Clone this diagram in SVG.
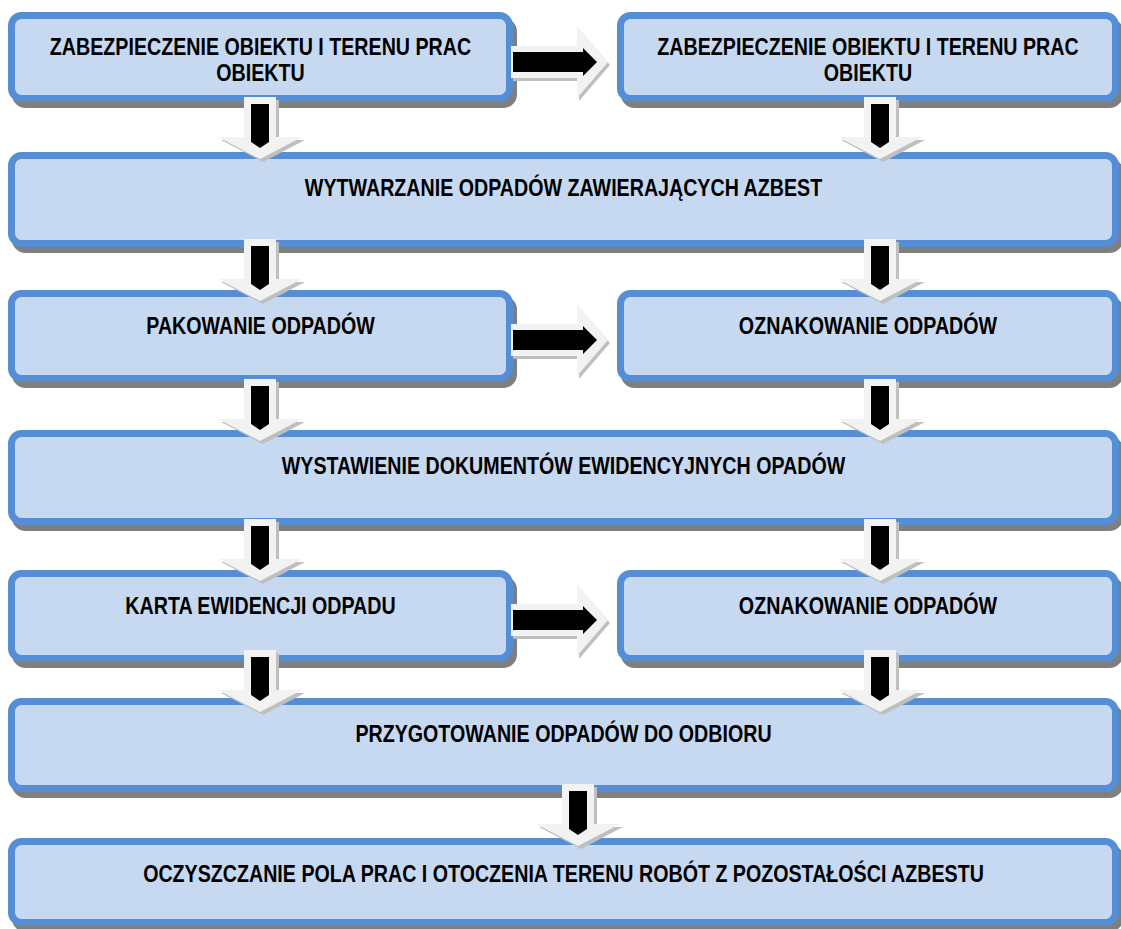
<svg xmlns="http://www.w3.org/2000/svg" xmlns:xlink="http://www.w3.org/1999/xlink" width="1121" height="929" viewBox="0 0 1121 929">
<style>
.box{fill:#C6D9F1;stroke:#558ED5;stroke-width:7}
.sh{fill:#7F7F7F;stroke:#7F7F7F;stroke-width:7}
.t{font-family:"Liberation Sans",Arial,sans-serif;font-weight:bold;font-size:23px;fill:#000;text-anchor:middle}
.ag{fill:#F2F2F2}
.as{fill:#BFBFBF}
.ab{fill:#000}
</style>
<defs>
<path id="dg" d="M-16,-62H16V-22H42L0,0L-42,-22H-16Z"/>
<path id="db" d="M-9,-55H9V-17L0,-11L-9,-17Z"/>
<path id="rg" d="M-97,-16H-31V-36L0,0L-31,36V16H-97Z"/>
<path id="rb" d="M-95,-10H-25V-14L-11,0L-25,14V10H-95Z"/>
<g id="down"><use xlink:href="#dg" class="as" transform="translate(3,3)"/><use xlink:href="#dg" class="ag"/><use xlink:href="#db" class="ab"/></g>
<g id="right"><use xlink:href="#rg" class="as" transform="translate(2,3)"/><use xlink:href="#rg" class="ag"/><use xlink:href="#rb" class="ab"/></g>
</defs>
<rect width="1121" height="929" fill="#FFFFFF"/>
<g id="n1">
<rect class="sh" x="15.5" y="21.5" width="498" height="83" rx="10"/>
<rect class="box" x="11.5" y="15.5" width="498" height="83" rx="10"/>
<text class="t" transform="translate(260.5,55) scale(0.855,1)">ZABEZPIECZENIE OBIEKTU I TERENU PRAC</text>
<text class="t" transform="translate(260.5,81) scale(0.855,1)">OBIEKTU</text>
</g>
<g id="n2">
<rect class="sh" x="624.5" y="21.5" width="495" height="83" rx="10"/>
<rect class="box" x="620.5" y="15.5" width="495" height="83" rx="10"/>
<text class="t" transform="translate(868,55) scale(0.855,1)">ZABEZPIECZENIE OBIEKTU I TERENU PRAC</text>
<text class="t" transform="translate(868,81) scale(0.855,1)">OBIEKTU</text>
</g>
<g id="n3">
<rect class="sh" x="15.5" y="161.5" width="1104" height="88" rx="10"/>
<rect class="box" x="11.5" y="155.5" width="1104" height="88" rx="10"/>
<text class="t" transform="translate(563.5,196) scale(0.855,1)">WYTWARZANIE ODPADÓW ZAWIERAJĄCYCH AZBEST</text>
</g>
<g id="n4">
<rect class="sh" x="15.5" y="299.5" width="498" height="85" rx="10"/>
<rect class="box" x="11.5" y="293.5" width="498" height="85" rx="10"/>
<text class="t" transform="translate(260.5,334) scale(0.855,1)">PAKOWANIE ODPADÓW</text>
</g>
<g id="n5">
<rect class="sh" x="624.5" y="299.5" width="495" height="85" rx="10"/>
<rect class="box" x="620.5" y="293.5" width="495" height="85" rx="10"/>
<text class="t" transform="translate(868,334) scale(0.855,1)">OZNAKOWANIE ODPADÓW</text>
</g>
<g id="n6">
<rect class="sh" x="15.5" y="439.5" width="1104" height="88" rx="10"/>
<rect class="box" x="11.5" y="433.5" width="1104" height="88" rx="10"/>
<text class="t" transform="translate(563.5,474) scale(0.855,1)">WYSTAWIENIE DOKUMENTÓW EWIDENCYJNYCH OPADÓW</text>
</g>
<g id="n7">
<rect class="sh" x="15.5" y="579.5" width="498" height="85" rx="10"/>
<rect class="box" x="11.5" y="573.5" width="498" height="85" rx="10"/>
<text class="t" transform="translate(260.5,614) scale(0.855,1)">KARTA EWIDENCJI ODPADU</text>
</g>
<g id="n8">
<rect class="sh" x="624.5" y="579.5" width="495" height="85" rx="10"/>
<rect class="box" x="620.5" y="573.5" width="495" height="85" rx="10"/>
<text class="t" transform="translate(868,614) scale(0.855,1)">OZNAKOWANIE ODPADÓW</text>
</g>
<g id="n9">
<rect class="sh" x="15.5" y="707.5" width="1104" height="87" rx="10"/>
<rect class="box" x="11.5" y="701.5" width="1104" height="87" rx="10"/>
<text class="t" transform="translate(563.5,742) scale(0.855,1)">PRZYGOTOWANIE ODPADÓW DO ODBIORU</text>
</g>
<g id="n10">
<rect class="sh" x="15.5" y="847.5" width="1104" height="81" rx="10"/>
<rect class="box" x="11.5" y="841.5" width="1104" height="81" rx="10"/>
<text class="t" transform="translate(563.5,882) scale(0.855,1)">OCZYSZCZANIE POLA PRAC I OTOCZENIA TERENU ROBÓT Z POZOSTAŁOŚCI AZBESTU</text>
</g>
<g id="connectors">
<use xlink:href="#right" transform="translate(608,62)"/>
<use xlink:href="#right" transform="translate(608,340)"/>
<use xlink:href="#right" transform="translate(608,620)"/>
<use xlink:href="#down" transform="translate(260,159)"/>
<use xlink:href="#down" transform="translate(880,159)"/>
<use xlink:href="#down" transform="translate(260,301)"/>
<use xlink:href="#down" transform="translate(880,301)"/>
<use xlink:href="#down" transform="translate(260,441)"/>
<use xlink:href="#down" transform="translate(880,441)"/>
<use xlink:href="#down" transform="translate(260,581)"/>
<use xlink:href="#down" transform="translate(880,581)"/>
<use xlink:href="#down" transform="translate(260,712)"/>
<use xlink:href="#down" transform="translate(880,712)"/>
<use xlink:href="#down" transform="translate(578,846)"/>
</g>
</svg>
